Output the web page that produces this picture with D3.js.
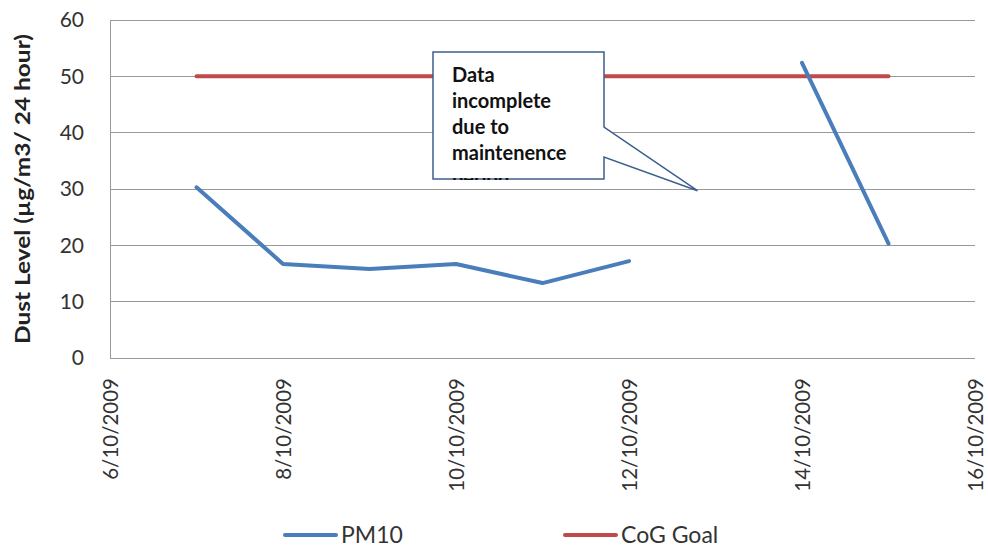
<!DOCTYPE html>
<html>
<head>
<meta charset="utf-8">
<script src="https://cdn.jsdelivr.net/npm/d3@7"></script>
<style>
  html, body { margin: 0; padding: 0; background: #fff; }
  svg { display: block; font-family: "Lato", "Liberation Sans", sans-serif; }
</style>
</head>
<body>
<svg id="chart" width="988" height="549"></svg>
<script>
// Daily PM10 readings (µg/m3 per 24 hours), October 2009
const pm10Dates = ["2009-10-07", "2009-10-08", "2009-10-09", "2009-10-10", "2009-10-11", "2009-10-12", null, "2009-10-14", "2009-10-15"];
const pm10Values = [30.3, 16.7, 15.8, 16.7, 13.3, 17.2, null, 52.4, 20.3];

// City of Gosnells goal line
const goalDates = ["2009-10-07", "2009-10-15"];
const goalValues = [50, 50];

const yTicks = [0, 10, 20, 30, 40, 50, 60];
const xTickDates = ["2009-10-06", "2009-10-08", "2009-10-10", "2009-10-12", "2009-10-14", "2009-10-16"];
const xTickLabels = ["6/10/2009", "8/10/2009", "10/10/2009", "12/10/2009", "14/10/2009", "16/10/2009"];

const seriesNames = ["PM10", "CoG Goal"];
const seriesColors = ["#4a7ebb", "#be4b48"];

const calloutLines = ["Data", "incomplete", "due to", "maintenence", "period"];
const calloutTarget = { date: "2009-10-12 19:00", value: 29.7 };

const parse = d3.timeParse("%Y-%m-%d");
const parseTime = d3.timeParse("%Y-%m-%d %H:%M");
const svg = d3.select("#chart");

const m = { left: 110, right: 975, top: 20, bottom: 358 };

const x = d3.scaleTime()
  .domain([parse("2009-10-06"), parse("2009-10-16")])
  .range([m.left, m.right]);
const y = d3.scaleLinear().domain([0, 60]).range([m.bottom, m.top]);

// horizontal gridlines
svg.append("g")
  .selectAll("line")
  .data(yTicks)
  .join("line")
  .attr("x1", m.left).attr("x2", m.right)
  .attr("y1", d => y(d)).attr("y2", d => y(d))
  .attr("stroke", "#999").attr("stroke-width", 1)
  .attr("shape-rendering", "crispEdges");

// left axis line
svg.append("line")
  .attr("x1", m.left).attr("x2", m.left)
  .attr("y1", m.top).attr("y2", m.bottom)
  .attr("stroke", "#999").attr("shape-rendering", "crispEdges");

// y tick labels
const yAxis = d3.axisLeft(y).tickValues(yTicks).tickSize(0).tickPadding(26);
const gy = svg.append("g").attr("transform", `translate(${m.left},0)`).call(yAxis);
gy.select(".domain").remove();
gy.selectAll("text")
  .attr("font-family", "Lato, 'Liberation Sans', sans-serif")
  .attr("font-size", 21).attr("fill", "#333");

// x tick labels, rotated
const xAxis = d3.axisBottom(x)
  .tickValues(xTickDates.map(parse))
  .tickFormat((d, i) => xTickLabels[i])
  .tickSize(0);
const gx = svg.append("g").attr("transform", `translate(0,${m.bottom})`).call(xAxis);
gx.select(".domain").remove();
gx.selectAll("text")
  .attr("font-family", "Lato, 'Liberation Sans', sans-serif")
  .attr("font-size", 20.5).attr("fill", "#333")
  .attr("text-anchor", "end")
  .attr("transform", "rotate(-90)")
  .attr("x", -20).attr("y", 0).attr("dy", "0.35em");

// y axis title
svg.append("text")
  .attr("transform", `translate(30,${(m.top + m.bottom) / 2}) rotate(-90)`)
  .attr("text-anchor", "middle")
  .attr("font-size", 21).attr("font-weight", "bold").attr("fill", "#222")
  .attr("textLength", 310).attr("lengthAdjust", "spacingAndGlyphs")
  .text("Dust Level (µg/m3/ 24 hour)");

// series lines
const line = d3.line()
  .defined(d => d.v !== null)
  .x(d => x(d.t)).y(d => y(d.v));

const goalData = goalDates.map((d, i) => ({ t: parse(d), v: goalValues[i] }));
svg.append("path").datum(goalData)
  .attr("d", line).attr("fill", "none")
  .attr("stroke", seriesColors[1]).attr("stroke-width", 4).attr("stroke-linecap", "round");

const pmData = pm10Dates.map((d, i) => ({ t: d ? parse(d) : null, v: pm10Values[i] }));
svg.append("path").datum(pmData)
  .attr("d", line).attr("fill", "none")
  .attr("stroke", seriesColors[0]).attr("stroke-width", 4)
  .attr("stroke-linecap", "round").attr("stroke-linejoin", "round");

// callout box with pointer
const bx0 = 433, bx1 = 604, by0 = 52, by1 = 179;
const tx = x(parseTime(calloutTarget.date)), ty = y(calloutTarget.value);
const callout = svg.append("g");
callout.append("path")
  .attr("d", `M${bx0},${by0} H${bx1} V127 L${tx},${ty} L${bx1},157 V${by1} H${bx0} Z`)
  .attr("fill", "#fff").attr("stroke", "#3d5f8f").attr("stroke-width", 1.5)
  .attr("stroke-linejoin", "miter");

// text inside the box is clipped to its interior; the overflowing last line
// only shows where it crosses the bottom border
const defs = svg.append("defs");
defs.append("clipPath").attr("id", "boxclip")
  .append("rect").attr("x", bx0).attr("y", by0).attr("width", bx1 - bx0).attr("height", by1 - by0 - 4);
defs.append("clipPath").attr("id", "edgeclip")
  .append("rect").attr("x", bx0).attr("y", by1 - 1).attr("width", bx1 - bx0).attr("height", 2);

callout.selectAll("text.callout")
  .data(calloutLines)
  .join("text")
  .attr("class", "callout")
  .attr("clip-path", (d, i) => i < calloutLines.length - 1 ? "url(#boxclip)" : "url(#edgeclip)")
  .attr("x", 452)
  .attr("y", (d, i) => 82 + i * 26)
  .attr("font-size", 20).attr("font-weight", "bold").attr("fill", "#111")
  .text(d => d);

// legend
const legend = svg.append("g");
const legendX = [285, 565];
seriesNames.forEach((name, i) => {
  legend.append("line")
    .attr("x1", legendX[i]).attr("x2", legendX[i] + 51)
    .attr("y1", 535).attr("y2", 535)
    .attr("stroke", seriesColors[i]).attr("stroke-width", 4).attr("stroke-linecap", "round");
  legend.append("text")
    .attr("x", legendX[i] + 56).attr("y", 543)
    .attr("font-size", 23).attr("fill", "#333")
    .text(name);
});
</script>
</body>
</html>
